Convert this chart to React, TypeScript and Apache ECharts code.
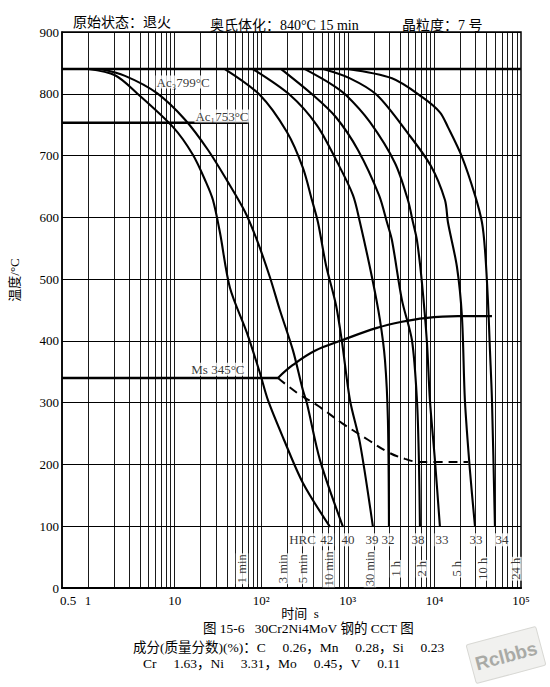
import React, { useEffect, useRef } from "react";
import * as echarts from "echarts";

// ---------- data (time in s, temperature in °C) ----------
const decadeLabels = ["1", "10", "10²", "10³", "10⁴", "10⁵"];
const gridDecades = [1, 10, 100, 1000, 10000];
const gridMultipliers = [1, 2, 3, 4, 5, 6, 7, 8, 9];

const austenitizeTemp = 840;
const ac1Line = [[0.5, 753], [70, 753]];
const msLine = [[0.5, 340], [156, 340]];

const curve1 = [[1.0, 840], [2.05, 830], [3.67, 801], [9.6, 746], [16.3, 701], [23, 657], [27.7, 628], [33.4, 575], [43.5, 486], [68.4, 413], [96.6, 348], [119.6, 304], [178, 244], [303, 170], [622, 99]];
const curve2 = [[1.37, 840], [2.67, 829], [6.25, 801], [13.2, 758], [24.3, 709], [41.3, 657], [64.9, 609], [89.3, 563], [126, 503], [164, 450], [232, 385], [303, 320], [337, 299], [477, 207], [879, 99]];
const curve3 = [[38, 840], [96.6, 798], [198, 738], [303, 680], [385, 628], [452, 592], [559, 523], [730, 458], [855, 399], [1059, 304], [1380, 235], [1950, 99]];
const curve4 = [[80, 840], [215, 798], [440, 749], [750, 690], [1146, 636], [1380, 592], [1901, 503], [2349, 434], [2685, 369], [2904, 272], [2985, 99]];
const curve5 = [[170, 840], [396, 798], [730, 762], [1309, 709], [2291, 636], [2831, 592], [3234, 563], [4217, 466], [5504, 401], [6285, 304], [6622, 207], [6806, 99]];
const curve6 = [[320, 840], [622, 817], [951, 798], [1803, 754], [3501, 688], [4943, 628], [5651, 592], [6285, 563], [7178, 494], [8204, 397], [8873, 304], [10140, 207], [11580, 99]];
const curve7 = [[520, 840], [1059, 825], [2168, 798], [4943, 736], [9120, 683], [13240, 628], [14330, 592], [18200, 520], [20800, 439], [22500, 304], [25700, 191], [29400, 100]];
const curve8 = [[1000, 840], [3234, 825], [7178, 795], [11580, 770], [14330, 746], [20800, 698], [29400, 636], [35400, 592], [38400, 547], [41500, 466], [43800, 385], [46200, 304], [50000, 99]];
const coolingCurves = [curve1, curve2, curve3, curve4, curve5, curve6, curve7, curve8];

const bainiteStart = [[156, 340], [232, 361], [417, 384], [855, 401], [2168, 421], [4217, 431], [7780, 437], [18700, 440], [46200, 440]];
const bainiteFinish = [[156, 340], [259, 316], [452, 295], [855, 267], [1708, 240], [2904, 220], [4570, 209], [6806, 204], [24400, 204]];

const hrcValues = ["42", "40", "39", "32", "38", "33", "33", "34"];
const hrcLabelTimes = [570, 1005, 1901, 2904, 6451, 12220, 30200, 60300];
const hrcLabelTemp = 78;

const timeMarkNames = ["1 min", "3 min", "5 min", "10 min", "30 min", "1 h", "2 h", "5 h", "10 h", "24 h"];
const timeMarkSeconds = [60, 180, 300, 600, 1800, 3600, 7200, 18000, 36000, 86400];
const timeMarkTemp = 36;

const annotations = [
  { name: "Ac₃799°C", value: [12.5, 819] },
  { name: "Ac₁753°C", value: [35.2, 764] },
  { name: "Ms 345°C", value: [31.6, 354] },
  { name: "HRC", value: [300, hrcLabelTemp] },
];

const SERIF = '"Liberation Serif", "DejaVu Serif", "Noto Sans CJK SC", serif';

export default function App() {
  const ref = useRef<HTMLDivElement>(null);
  useEffect(() => {
    const chart = echarts.init(ref.current!, null, { renderer: "svg" });

    const gridTimes: number[] = [];
    gridDecades.forEach((d) => gridMultipliers.forEach((m) => gridTimes.push(m * d)));

    const labelStyle = { show: true, position: "inside", formatter: "{b}", color: "#000", fontFamily: SERIF, fontSize: 13, backgroundColor: "#fff", padding: [0, 1] };

    const series: any[] = [
      {
        type: "lines",
        coordinateSystem: "cartesian2d",
        silent: true,
        z: 1,
        lineStyle: { color: "#000", width: 0.9, opacity: 1 },
        data: gridTimes.map((v) => ({ coords: [[v, 0], [v, 900]] })),
      },
      {
        type: "line",
        data: [[0.5, austenitizeTemp], [100000, austenitizeTemp]],
        symbol: "none",
        lineStyle: { color: "#000", width: 2.6 },
        z: 3,
      },
      { type: "line", data: ac1Line, symbol: "none", lineStyle: { color: "#000", width: 2.6 }, z: 3 },
      { type: "line", data: msLine, symbol: "none", lineStyle: { color: "#000", width: 2.6 }, z: 3 },
      ...coolingCurves.map((c) => ({
        type: "line",
        data: c,
        symbol: "none",
        smooth: 0.3,
        lineStyle: { color: "#000", width: 2.1 },
        z: 4,
      })),
      { type: "line", data: bainiteStart, symbol: "none", smooth: 0.4, lineStyle: { color: "#000", width: 2.2 }, z: 4 },
      {
        type: "line",
        data: bainiteFinish,
        symbol: "none",
        smooth: 0.4,
        lineStyle: { color: "#000", width: 2, type: [9, 6] },
        z: 4,
      },
      {
        type: "scatter",
        symbolSize: 0,
        z: 6,
        data: hrcValues.map((h, i) => ({ name: h, value: [hrcLabelTimes[i], hrcLabelTemp] })),
        label: labelStyle,
      },
      {
        type: "scatter",
        symbolSize: 0,
        z: 6,
        data: annotations,
        label: labelStyle,
      },
      {
        type: "scatter",
        symbolSize: 0,
        z: 6,
        data: timeMarkNames.map((n, i) => ({ name: n, value: [timeMarkSeconds[i], timeMarkTemp] })),
        label: { ...labelStyle, rotate: 90, offset: [-3, 0], fontSize: 12.5 },
      },
    ];

    const option: any = {
      animation: false,
      backgroundColor: "#fff",
      grid: { left: 62, top: 32, width: 459, height: 556, show: true, borderColor: "#000", borderWidth: 1.5, backgroundColor: "transparent" },
      xAxis: {
        type: "log",
        logBase: 10,
        min: 0.5,
        max: 100000,
        axisLine: { show: true, lineStyle: { color: "#000", width: 2.2 } },
        axisTick: { show: false },
        splitLine: { show: false },
        axisLabel: {
          color: "#000",
          fontFamily: SERIF,
          fontSize: 13,
          margin: 6,
          showMinLabel: true,
          showMaxLabel: true,
          rich: { h: { fontFamily: SERIF, fontSize: 13, color: "#000", padding: [0, 0, 0, 12] } },
          formatter: (v: number) => {
            const lg = Math.log10(v);
            const r = Math.round(lg);
            if (Math.abs(lg - r) > 0.02) return "{h|0.5}";
            return decadeLabels[r] ?? "";
          },
        },
      },
      yAxis: {
        type: "value",
        min: 0,
        max: 900,
        interval: 100,
        axisLine: { show: true, lineStyle: { color: "#000", width: 1.5 } },
        axisTick: { show: false },
        splitLine: { show: true, lineStyle: { color: "#000", width: 1 } },
        axisLabel: { color: "#000", fontFamily: SERIF, fontSize: 13, margin: 3 },
      },
      series,
      graphic: [
        { type: "text", x: 73, y: 22, style: { text: "原始状态：退火", fontFamily: SERIF, fontSize: 14, fill: "#000", align: "left", verticalAlign: "middle" } },
        { type: "text", x: 210, y: 25, style: { text: "奥氏体化：840°C 15 min", fontFamily: SERIF, fontSize: 14, fill: "#000", align: "left", verticalAlign: "middle" } },
        { type: "text", x: 402, y: 25, style: { text: "晶粒度：7 号", fontFamily: SERIF, fontSize: 14, fill: "#000", align: "left", verticalAlign: "middle" } },
        { type: "text", x: 14, y: 280, rotation: Math.PI / 2, style: { text: "温度/°C", fontFamily: SERIF, fontSize: 13, fill: "#000", align: "center", verticalAlign: "middle" } },
        { type: "text", x: 300, y: 613, style: { text: "时间  s", fontFamily: SERIF, fontSize: 13, fill: "#000", align: "center", verticalAlign: "middle" } },
        { type: "text", x: 203, y: 628, style: { text: "图 15-6   30Cr2Ni4MoV 钢的 CCT 图", fontFamily: SERIF, fontSize: 13.5, fill: "#000", align: "left", verticalAlign: "middle" } },
        { type: "text", x: 133, y: 647, style: { text: "成分(质量分数)(%)：C     0.26，Mn     0.28，Si     0.23", fontFamily: SERIF, fontSize: 13.5, fill: "#000", align: "left", verticalAlign: "middle" } },
        { type: "text", x: 143, y: 663, style: { text: "Cr     1.63，Ni     3.31，Mo     0.45，V     0.11", fontFamily: SERIF, fontSize: 13.5, fill: "#000", align: "left", verticalAlign: "middle" } },
        {
          type: "group",
          x: 506,
          y: 655,
          rotation: 0.26,
          children: [
            { type: "rect", shape: { x: -36, y: -20, width: 72, height: 40, r: 2 }, style: { fill: "#f1f1ef", stroke: "#d8d8d4", lineWidth: 1 } },
            { type: "text", x: 0, y: 1, style: { text: "Rclbbs", fontFamily: '"Liberation Sans", sans-serif', fontWeight: "bold", fontSize: 19, fill: "#a9aaa6", align: "center", verticalAlign: "middle" } },
          ],
        },
      ],
    };

    chart.setOption(option);
    return () => chart.dispose();
  }, []);

  return <div ref={ref} style={{ position: "absolute", left: 0, top: 0, width: 550, height: 687, background: "#fff" }} />;
}
